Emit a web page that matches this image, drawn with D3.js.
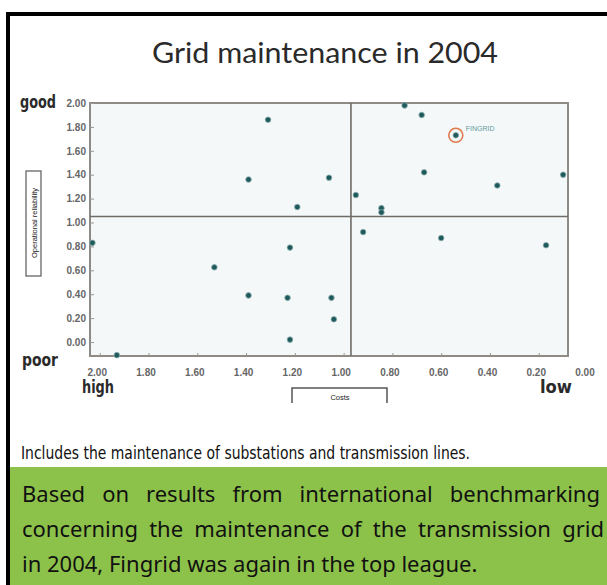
<!DOCTYPE html>
<html>
<head>
<meta charset="utf-8">
<script src="https://cdn.jsdelivr.net/npm/d3@7.9.0/dist/d3.min.js"></script>
<style>
  html, body { margin: 0; padding: 0; background: #fff; }
  svg { display: block; }
</style>
</head>
<body>
<svg id="chart" width="607" height="585"></svg>
<script>
// data: costs (x, reversed) vs operational reliability (y)
const costs = [2.03, 1.93, 1.53, 1.39, 1.39, 1.31, 1.22, 1.23, 1.22, 1.19, 1.06, 1.05, 1.04,
               0.95, 0.92, 0.845, 0.845, 0.75, 0.68, 0.67, 0.60, 0.54, 0.37, 0.17, 0.10];
const reliability = [0.83, -0.11, 0.625, 1.36, 0.39, 1.86, 0.79, 0.37, 0.02, 1.13, 1.375, 0.37, 0.19,
                     1.23, 0.92, 1.12, 1.085, 1.98, 1.90, 1.42, 0.87, 1.73, 1.31, 0.81, 1.40];
const names = costs.map((_, i) => i === 21 ? 'FINGRID' : '');
const xTicks = [2.0, 1.8, 1.6, 1.4, 1.2, 1.0, 0.8, 0.6, 0.4, 0.2, 0.0];
const yTicks = [0.0, 0.2, 0.4, 0.6, 0.8, 1.0, 1.2, 1.4, 1.6, 1.8, 2.0];
const xDivider = 0.97;
const yDivider = 1.05;

const svg = d3.select('#chart');

// outer black frame (left + top)
svg.append('path')
  .attr('d', 'M8,585 V14 H607')
  .attr('fill', 'none')
  .attr('stroke', '#000')
  .attr('stroke-width', 4);

// title
svg.append('text')
  .attr('x', 152).attr('y', 63)
  .attr('textLength', 346).attr('lengthAdjust', 'spacingAndGlyphs')
  .style('font-family', 'Lato, "Open Sans", sans-serif')
  .style('font-size', '29px')
  .attr('fill', '#2a2a2a')
  .text('Grid maintenance in 2004');

// plot area
const pLeft = 90, pRight = 568, pTop = 103, pBottom = 356;
const x = d3.scaleLinear().domain([2.04, 0.08]).range([pLeft, pRight]);
const y = d3.scaleLinear().domain([-0.117, 2.0]).range([pBottom, pTop]);

svg.append('rect')
  .attr('x', pLeft).attr('y', pTop)
  .attr('width', pRight - pLeft).attr('height', pBottom - pTop)
  .attr('fill', '#f5f8f9')
  .attr('stroke', '#8e8a86')
  .attr('stroke-width', 2);

// y axis
const yAxis = svg.append('g')
  .attr('transform', `translate(${pLeft},0)`)
  .call(d3.axisLeft(y).tickValues(yTicks).tickFormat(d3.format('.2f')).tickSize(-4).tickPadding(4));
yAxis.select('.domain').remove();
yAxis.selectAll('line').attr('stroke', '#9a9692');
yAxis.selectAll('text')
  .style('font-family', '"Liberation Sans", Arial, sans-serif')
  .style('font-size', '10px')
  .style('font-weight', 'bold')
  .attr('fill', '#666');

// x axis
const xAxis = svg.append('g')
  .attr('transform', `translate(0,${pBottom})`)
  .call(d3.axisBottom(x).tickValues(xTicks).tickFormat(d3.format('.2f')).tickSize(-3).tickPadding(13));
xAxis.select('.domain').remove();
xAxis.selectAll('line')
  .attr('stroke', '#9a9692')
  .attr('display', d => (d > 2.04 || d < 0.08) ? 'none' : null);
xAxis.selectAll('text')
  .attr('dx', -3)
  .style('font-family', '"Liberation Sans", Arial, sans-serif')
  .style('font-size', '10px')
  .style('font-weight', 'bold')
  .attr('fill', '#666');

// quadrant dividers
svg.append('line')
  .attr('x1', x(xDivider)).attr('x2', x(xDivider))
  .attr('y1', pTop).attr('y2', pBottom)
  .attr('stroke', '#6f6b67').attr('stroke-width', 1.6);
svg.append('line')
  .attr('x1', pLeft).attr('x2', pRight)
  .attr('y1', y(yDivider)).attr('y2', y(yDivider))
  .attr('stroke', '#6f6b67').attr('stroke-width', 1.6);

// points
const pts = costs.map((c, i) => ({ c: c, r: reliability[i], name: names[i] }));
svg.append('g')
  .selectAll('circle')
  .data(pts)
  .join('circle')
  .attr('cx', d => x(d.c))
  .attr('cy', d => y(d.r))
  .attr('r', 2.8)
  .attr('fill', '#1e5a5c')
  .attr('stroke', '#8fb0b0')
  .attr('stroke-width', 0.8);

// highlight Fingrid
const fg = pts.filter(d => d.name);
svg.append('g').selectAll('circle')
  .data(fg)
  .join('circle')
  .attr('cx', d => x(d.c))
  .attr('cy', d => y(d.r))
  .attr('r', 7)
  .attr('fill', 'none')
  .attr('stroke', '#e07a4e')
  .attr('stroke-width', 1.6);
svg.append('g').selectAll('text')
  .data(fg)
  .join('text')
  .attr('x', d => x(d.c) + 10)
  .attr('y', d => y(d.r) - 4)
  .style('font-family', '"Liberation Sans", Arial, sans-serif')
  .style('font-size', '7px')
  .attr('fill', '#5f9c9c')
  .text(d => d.name);

// good / poor / high / low
const bigLabel = (txt, tx, ty, w) => svg.append('text')
  .attr('x', tx).attr('y', ty)
  .attr('textLength', w).attr('lengthAdjust', 'spacingAndGlyphs')
  .style('font-family', '"DejaVu Sans Condensed", "DejaVu Sans", sans-serif')
  .style('font-size', '17px')
  .style('font-weight', 'bold')
  .attr('fill', '#2a2a2a')
  .text(txt);
bigLabel('good', 20, 108, 36);
bigLabel('poor', 22, 366, 36);
bigLabel('high', 82, 393, 32);
bigLabel('low', 540, 393, 32);

// axis title boxes
svg.append('rect')
  .attr('x', 26).attr('y', 171).attr('width', 15).attr('height', 105)
  .attr('fill', 'none').attr('stroke', '#666').attr('stroke-width', 1.3);
svg.append('text')
  .attr('transform', 'translate(36.5,223) rotate(-90)')
  .attr('text-anchor', 'middle')
  .style('font-family', '"Liberation Sans", Arial, sans-serif')
  .style('font-size', '7.5px')
  .attr('fill', '#222')
  .text('Operational reliability');

svg.append('path')
  .attr('d', 'M292,403 V388 H387 V403')
  .attr('fill', 'none').attr('stroke', '#555').attr('stroke-width', 1.5);
svg.append('text')
  .attr('x', 340).attr('y', 400)
  .attr('text-anchor', 'middle')
  .style('font-family', '"Liberation Sans", Arial, sans-serif')
  .style('font-size', '7.5px')
  .attr('fill', '#222')
  .text('Costs');

// footnote
svg.append('text')
  .attr('x', 21).attr('y', 459)
  .attr('textLength', 449).attr('lengthAdjust', 'spacingAndGlyphs')
  .style('font-family', '"DejaVu Sans Condensed", "DejaVu Sans", sans-serif')
  .style('font-size', '17px')
  .attr('fill', '#111')
  .text('Includes the maintenance of substations and transmission lines.');

// green summary box
svg.append('rect')
  .attr('x', 10).attr('y', 467).attr('width', 597).attr('height', 118)
  .attr('fill', '#8dc24a');

// justified paragraph: stretch the gaps between words on full lines
const lines = [
  { t: 'Based on results from international benchmarking', y: 502, w: 578 },
  { t: 'concerning the maintenance of the transmission grid', y: 537, w: 582 },
  { t: 'in 2004, Fingrid was again in the top league.', y: 572, w: null }
];
lines.forEach(l => {
  const tx = svg.append('text')
    .attr('x', 22).attr('y', l.y)
    .style('font-family', '"Noto Sans", "Open Sans", sans-serif')
    .style('font-size', '22px')
    .attr('fill', '#111')
    .text(l.t);
  if (l.w) {
    const natural = tx.node().getComputedTextLength();
    const gaps = l.t.split(' ').length - 1;
    tx.style('word-spacing', ((l.w - natural) / gaps) + 'px');
  }
});
</script>
</body>
</html>
